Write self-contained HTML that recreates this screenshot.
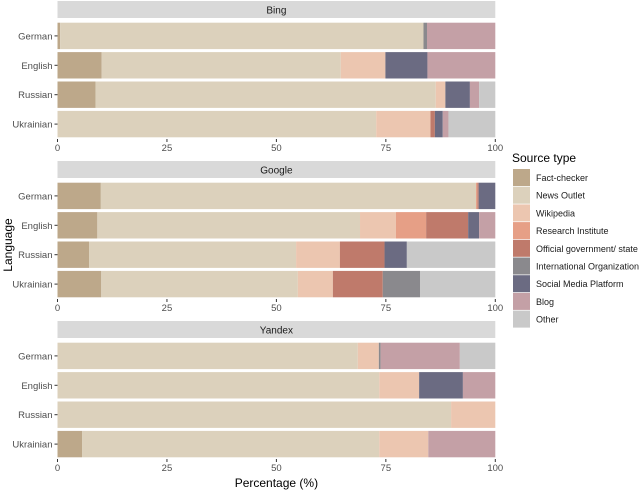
<!DOCTYPE html>
<html><head><meta charset="utf-8"><style>
body{margin:0;background:#fff;font-family:"Liberation Sans",sans-serif;}
svg text{font-family:"Liberation Sans",sans-serif;}
</style></head><body>
<svg id="c" width="640" height="490" xmlns="http://www.w3.org/2000/svg"></svg>
<script>
const engines = ["Bing","Google","Yandex"];
const languages = ["German","English","Russian","Ukrainian"];
const sourceTypes = ["Fact-checker","News Outlet","Wikipedia","Research Institute","Official government/ state","International Organization","Social Media Platform","Blog","Other"];
const colors = ["#bda88a","#dcd1bc","#ecc6b0","#e69f86","#bf7a6b","#8a898d","#6b6b82","#c4a0a6","#c9c9c9"];
const bingValues = [
 [0.6,83.0,0,0,0,0.8,0,15.6,0],
 [10.1,54.6,10.2,0,0,0,9.6,15.5,0],
 [8.7,77.7,2.2,0,0,0,5.6,2.1,3.7],
 [0,72.8,12.4,0,1.0,0,1.8,1.3,10.7]
];
const googleValues = [
 [9.9,85.7,0,0.3,0.3,0,3.8,0,0],
 [9.1,60.0,8.2,6.9,9.6,0,2.5,3.7,0],
 [7.2,47.3,10.0,0,10.2,0,5.1,0,20.2],
 [10.0,44.9,8.0,0,11.4,8.5,0,0,17.2]
];
const yandexValues = [
 [0,68.6,4.8,0,0,0.4,0,18.1,8.1],
 [0,73.5,9.1,0,0,0,10.0,7.4,0],
 [0,89.9,10.1,0,0,0,0,0,0],
 [5.6,67.9,11.2,0,0,0,0,15.3,0]
];
const tickValues = [0,25,50,75,100];
const allValues = [bingValues, googleValues, yandexValues];

const NS="http://www.w3.org/2000/svg";
const svg=document.getElementById('c');
function mk(t,a,p){const e=document.createElementNS(NS,t);for(const k in a)e.setAttribute(k,a[k]);(p||svg).appendChild(e);return e;}
const x0=57.5,x1=495.3;
const xs=v=>x0+(x1-x0)*v/100;
const panelTops=[1,161,321];
engines.forEach((eng,pi)=>{
  const top=panelTops[pi];
  const g=mk('g',{});
  
  
  const strip=mk('rect',{x:x0,y:top,width:x1-x0,height:17,fill:'#d9d9d9'},g);
  
  
  const st=mk('text',{x:(x0+x1)/2,y:top+12.5,'font-size':10,'text-anchor':'middle',fill:'#1a1a1a'},g);
  st.textContent=eng;
  
  
  languages.forEach((lang,li)=>{
    const by=top+21.7+li*29.4, bh=26.4;
    let acc=0;
    allValues[pi][li].forEach((v,si)=>{
      if(v>0){
        const r=mk('rect',{x:xs(acc),y:by,width:xs(acc+v)-xs(acc),height:bh,fill:colors[si]},g);
        
        
      }
      acc+=v;
    });
    mk('line',{x1:x0-3,x2:x0,y1:by+bh/2,y2:by+bh/2,stroke:'#333','stroke-width':1},g);
    const lt=mk('text',{x:x0-5,y:by+bh/2+3.5,'font-size':9.5,'text-anchor':'end',fill:'#4d4d4d'},g);
    lt.textContent=lang;
    
    
  });
  const ay=top+138;
  tickValues.forEach(t=>{
    mk('line',{x1:xs(t),x2:xs(t),y1:ay,y2:ay+3,stroke:'#333','stroke-width':1},g);
    const tt=mk('text',{x:xs(t),y:ay+12,'font-size':9.5,'text-anchor':'middle',fill:'#4d4d4d'},g);
    tt.textContent=t;
    
    
  });
});
const xt=mk('text',{x:x0+(x1-x0)/2,y:487,'font-size':12,'text-anchor':'middle',fill:'#000'});
xt.textContent='Percentage (%)';


const yt=mk('text',{x:0,y:0,'font-size':12,'text-anchor':'middle',fill:'#000',transform:'translate(12,245) rotate(-90)'});
yt.textContent='Language';


const lg=mk('g',{});


const ltit=mk('text',{x:512,y:162,'font-size':12,fill:'#000'},lg);
ltit.textContent='Source type';


sourceTypes.forEach((s,i)=>{
  const y=169+i*17.7;
  const k=mk('rect',{x:513,y:y,width:17,height:17,fill:colors[i]},lg);
  
  
  const t=mk('text',{x:536,y:y+12,'font-size':9,fill:'#1a1a1a'},lg);
  t.textContent=s;
  
  
});
</script>
</body></html>
